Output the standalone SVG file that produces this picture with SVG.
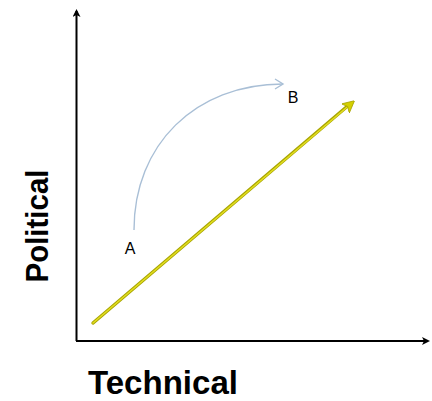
<svg xmlns="http://www.w3.org/2000/svg" width="432" height="401" viewBox="0 0 432 401">
<defs>
<style>
.lbl{font-family:"Liberation Sans",Arial,sans-serif;fill:#000}
.ax{stroke:#000;stroke-width:2;fill:none}
</style>
<marker id="ah" markerWidth="8" markerHeight="8" refX="6" refY="4" orient="auto" markerUnits="userSpaceOnUse"><path d="M0,0 L8,4 L0,8 L2,4 Z" fill="#000"/></marker>
<marker id="ay" markerWidth="12" markerHeight="12" refX="10" refY="6" orient="auto" markerUnits="userSpaceOnUse"><path d="M0,0 L12,6 L0,12 L3,6 Z" fill="#d4d000" stroke="#a8a400" stroke-width="0.8"/></marker>
<marker id="ab" markerWidth="12" markerHeight="12" refX="10" refY="6" orient="auto" markerUnits="userSpaceOnUse"><path d="M2,1 L10,6 L2,11" fill="none" stroke="#a9bfd6" stroke-width="1.4"/></marker>
</defs>
<rect width="432" height="401" fill="#fff"/>
<g id="connectors">
<line class="ax" x1="76.5" y1="341" x2="76.5" y2="11" marker-end="url(#ah)"/>
<line class="ax" x1="76" y1="341" x2="428" y2="341" marker-end="url(#ah)"/>
<line x1="93" y1="323" x2="350" y2="104" stroke="#a8a400" stroke-width="3.4" stroke-linecap="round"/>
<line x1="93" y1="323" x2="353" y2="102" stroke="#e2de20" stroke-width="1.6" stroke-linecap="round" marker-end="url(#ay)"/>
<path d="M134,230 C134,145 195,84 283,84" fill="none" stroke="#a9bfd6" stroke-width="1.4" marker-end="url(#ab)"/>
</g>
<g id="A"><text class="lbl" x="130" y="254" font-size="16" text-anchor="middle">A</text></g>
<g id="B"><text class="lbl" x="293" y="103" font-size="16" text-anchor="middle">B</text></g>
<g id="xlabel"><text class="lbl" x="163" y="394" font-size="33" font-weight="bold" text-anchor="middle" textLength="150" lengthAdjust="spacingAndGlyphs">Technical</text></g>
<g id="ylabel"><text class="lbl" transform="translate(48,226) rotate(-90)" font-size="31" font-weight="bold" text-anchor="middle" textLength="113" lengthAdjust="spacingAndGlyphs">Political</text></g>
</svg>
